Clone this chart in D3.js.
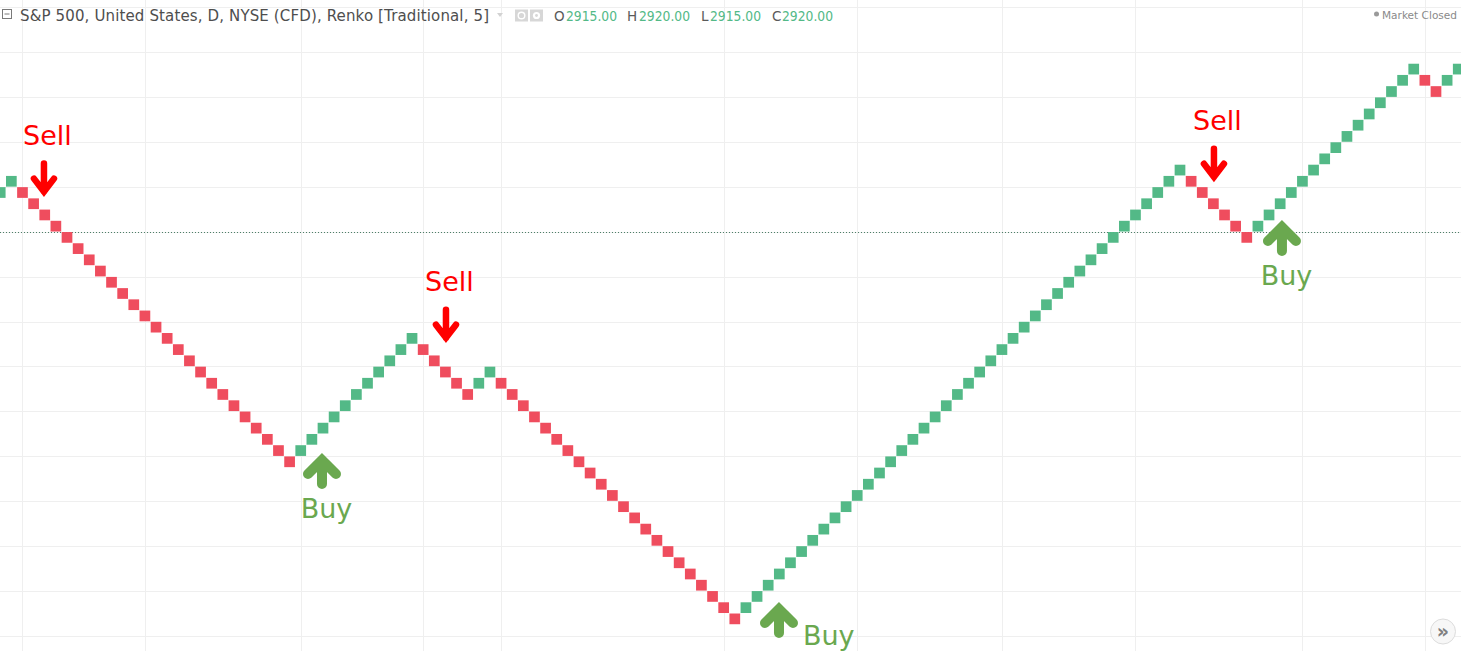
<!DOCTYPE html>
<html>
<head>
<meta charset="utf-8">
<script src="https://cdn.jsdelivr.net/npm/d3@7"></script>
<style>
  html, body { margin: 0; padding: 0; background: #ffffff; }
  svg { display: block; }
</style>
</head>
<body>
<svg id="chart" width="1461" height="651"></svg>
<script>
// ---------------- DATA ----------------
const titleText = "S&P 500, United States, D, NYSE (CFD), Renko [Traditional, 5]";
const ohlcKeys = ["O", "H", "L", "C"];
const ohlcValues = ["2915.00", "2920.00", "2915.00", "2920.00"];
const statusText = "Market Closed";
const boxSize = 5;

// low price of every Renko brick, left to right
const brickLow = [
  2855, 2860,
  2855, 2850, 2845, 2840, 2835, 2830, 2825, 2820, 2815, 2810, 2805, 2800, 2795,
  2790, 2785, 2780, 2775, 2770, 2765, 2760, 2755, 2750, 2745, 2740, 2735,
  2740, 2745, 2750, 2755, 2760, 2765, 2770, 2775, 2780, 2785, 2790,
  2785, 2780, 2775, 2770, 2765,
  2770, 2775,
  2770, 2765, 2760, 2755, 2750, 2745, 2740, 2735, 2730, 2725, 2720, 2715, 2710,
  2705, 2700, 2695, 2690, 2685, 2680, 2675, 2670, 2665,
  2670, 2675, 2680, 2685, 2690, 2695, 2700, 2705, 2710, 2715, 2720, 2725, 2730,
  2735, 2740, 2745, 2750, 2755, 2760, 2765, 2770, 2775, 2780, 2785, 2790, 2795,
  2800, 2805, 2810, 2815, 2820, 2825, 2830, 2835, 2840, 2845, 2850, 2855, 2860, 2865,
  2860, 2855, 2850, 2845, 2840, 2835,
  2840, 2845, 2850, 2855, 2860, 2865, 2870, 2875, 2880, 2885, 2890, 2895, 2900, 2905, 2910,
  2905, 2900,
  2905, 2910
];
// direction of every brick: 1 = up (green), -1 = down (red)
const brickDir = [
  1, 1,
  -1, -1, -1, -1, -1, -1, -1, -1, -1, -1, -1, -1, -1,
  -1, -1, -1, -1, -1, -1, -1, -1, -1, -1, -1, -1,
  1, 1, 1, 1, 1, 1, 1, 1, 1, 1, 1,
  -1, -1, -1, -1, -1,
  1, 1,
  -1, -1, -1, -1, -1, -1, -1, -1, -1, -1, -1, -1, -1,
  -1, -1, -1, -1, -1, -1, -1, -1, -1,
  1, 1, 1, 1, 1, 1, 1, 1, 1, 1, 1, 1, 1,
  1, 1, 1, 1, 1, 1, 1, 1, 1, 1, 1, 1, 1,
  1, 1, 1, 1, 1, 1, 1, 1, 1, 1, 1, 1, 1, 1,
  -1, -1, -1, -1, -1, -1,
  1, 1, 1, 1, 1, 1, 1, 1, 1, 1, 1, 1, 1, 1, 1,
  -1, -1,
  1, 1
];

// trade signals (brick position of the arrow and price at its tip)
const signalType  = ["Sell", "Buy", "Sell", "Buy", "Sell", "Buy"];
const signalIndex = [3.93, 28.91, 40.05, 69.97, 109.05, 115.16];
const signalPrice = [2857.9, 2738.3, 2792.8, 2671.9, 2864.5, 2842.1];

// grid
const gridPrices = [2940, 2920, 2900, 2880, 2860, 2840, 2820, 2800, 2780, 2760, 2740, 2720, 2700, 2680, 2660];
const gridBricks = [2, 13, 27, 38, 45, 65, 77, 90, 102, 117, 128];
const lastPriceLine = 2840;

// ---------------- STYLE ----------------
const W = 1461, H = 651;
const upColor = "#53b987", downColor = "#ef4d5e";
const sellColor = "#ff0000", buyColor = "#6aa84f";
const gridColor = "#efefef";
const font = "'DejaVu Sans', Verdana, sans-serif";

const svg = d3.select("#chart");

const x = d3.scaleLinear().domain([0, brickLow.length - 1]).range([-5.13, -5.13 + 11.13 * (brickLow.length - 1)]);
const y = d3.scaleLinear().domain([2860, 2920]).range([186.9, 52.26]);
const step = x(1) - x(0);
const bw = step - 0.43;
const cx = i => x(i) + bw / 2;

// grid
const grid = svg.append("g");
grid.selectAll("line.h").data(gridPrices).join("line")
  .attr("x1", 0).attr("x2", W)
  .attr("y1", d => Math.round(y(d)) + 0.5).attr("y2", d => Math.round(y(d)) + 0.5)
  .attr("stroke", gridColor).attr("stroke-width", 1);
grid.selectAll("line.v").data(gridBricks).join("line")
  .attr("y1", 0).attr("y2", H)
  .attr("x1", d => Math.round(cx(d)) + 0.5).attr("x2", d => Math.round(cx(d)) + 0.5)
  .attr("stroke", gridColor).attr("stroke-width", 1);

// last price line
svg.append("line")
  .attr("x1", 0).attr("x2", W)
  .attr("y1", Math.round(y(lastPriceLine)) + 0.5).attr("y2", Math.round(y(lastPriceLine)) + 0.5)
  .attr("stroke", "#4d7f68").attr("stroke-width", 1).attr("stroke-dasharray", "1,2");

// bricks
svg.append("g").selectAll("rect").data(brickLow).join("rect")
  .attr("x", (d, i) => x(i))
  .attr("y", d => y(d + boxSize) + 0.25)
  .attr("width", bw)
  .attr("height", d => y(d) - y(d + boxSize) - 0.5)
  .attr("fill", (d, i) => brickDir[i] > 0 ? upColor : downColor);

// signals
const sig = svg.append("g");
signalType.forEach((t, k) => {
  const ax = cx(signalIndex[k]);
  const ay = y(signalPrice[k]);
  if (t === "Sell") {
    sig.append("path")
      .attr("d", "M0,-28 V0 M-10,-13 L0,0 L10,-13")
      .attr("transform", `translate(${ax},${ay})`)
      .attr("fill", "none").attr("stroke", sellColor).attr("stroke-width", 6.5)
      .attr("stroke-linecap", "round").attr("stroke-linejoin", "miter");
    sig.append("text")
      .attr("x", ax + 3.5).attr("y", ay - 47)
      .attr("text-anchor", "middle")
      .attr("font-family", font).attr("font-size", 27)
      .attr("fill", sellColor).text(t);
  } else {
    sig.append("path")
      .attr("d", "M0,24 V0 M-14,14 L0,0 L14,14")
      .attr("transform", `translate(${ax},${ay})`)
      .attr("fill", "none").attr("stroke", buyColor).attr("stroke-width", 10)
      .attr("stroke-linecap", "round").attr("stroke-linejoin", "miter");
    const below = ay + 58;
    const tx = below > H ? ax + 24 : ax + 4.5;
    const ty = below > H ? ay + 36 : below;
    sig.append("text")
      .attr("x", tx).attr("y", ty)
      .attr("text-anchor", below > H ? "start" : "middle")
      .attr("font-family", font).attr("font-size", 27)
      .attr("fill", buyColor).text(t);
  }
});

// header
const hdr = svg.append("g");
hdr.append("rect").attr("x", 2.5).attr("y", 9.5).attr("width", 9).attr("height", 9)
  .attr("fill", "#fff").attr("stroke", "#7a7a7a").attr("stroke-width", 1);
hdr.append("line").attr("x1", 4.5).attr("x2", 9.5).attr("y1", 14).attr("y2", 14)
  .attr("stroke", "#7a7a7a").attr("stroke-width", 1);
hdr.append("text").attr("x", 20).attr("y", 20.5)
  .attr("font-family", font).attr("font-size", 15).attr("fill", "#4e4e4e")
  .attr("textLength", 469).attr("lengthAdjust", "spacing")
  .text(titleText);
hdr.append("path").attr("d", "M497,13 L503,13 L500,17 Z").attr("fill", "#d2d2d2");
// eye / gear buttons
hdr.append("rect").attr("x", 515).attr("y", 9.5).attr("width", 13).attr("height", 12).attr("fill", "#d7d7d7");
hdr.append("circle").attr("cx", 521.5).attr("cy", 15.5).attr("r", 3.3).attr("fill", "none").attr("stroke", "#fff").attr("stroke-width", 1.4);
hdr.append("rect").attr("x", 530).attr("y", 9.5).attr("width", 13).attr("height", 12).attr("fill", "#d7d7d7");
hdr.append("circle").attr("cx", 536.5).attr("cy", 15.5).attr("r", 3.6).attr("fill", "#fff");
hdr.append("circle").attr("cx", 536.5).attr("cy", 15.5).attr("r", 1.4).attr("fill", "#d7d7d7");
const keyX = [554, 627, 701, 772];
const valX = [566, 639, 710, 782];
ohlcKeys.forEach((k, i) => {
  hdr.append("text").attr("x", keyX[i]).attr("y", 20.5)
    .attr("font-family", font).attr("font-size", 13.5).attr("fill", "#5a5a5a").text(k);
  hdr.append("text").attr("x", valX[i]).attr("y", 20.5)
    .attr("font-family", font).attr("font-size", 13.5).attr("fill", upColor)
    .attr("textLength", 51).attr("lengthAdjust", "spacingAndGlyphs")
    .text(ohlcValues[i]);
});
hdr.append("circle").attr("cx", 1376.5).attr("cy", 14).attr("r", 2.5).attr("fill", "#9a9a9a");
hdr.append("text").attr("x", 1382).attr("y", 18.5)
  .attr("font-family", font).attr("font-size", 10.5).attr("fill", "#8a8a8a")
  .attr("textLength", 75).attr("lengthAdjust", "spacingAndGlyphs")
  .text(statusText);

// scroll button
svg.append("circle").attr("cx", 1443).attr("cy", 631.5).attr("r", 12.5)
  .attr("fill", "#f7f7f7").attr("stroke", "#dcdcdc").attr("stroke-width", 1);
svg.append("text").attr("x", 1443).attr("y", 637.5).attr("text-anchor", "middle")
  .attr("font-family", font).attr("font-size", 19).attr("font-weight", "bold")
  .attr("fill", "#808080").text("»");
</script>
</body>
</html>
